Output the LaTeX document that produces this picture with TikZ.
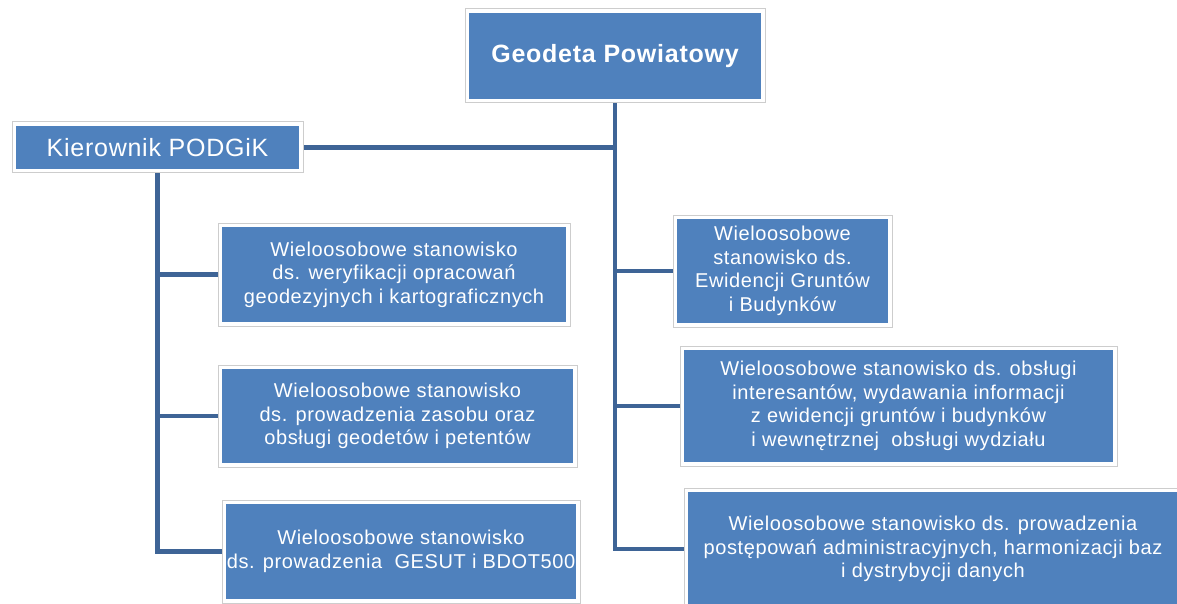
\documentclass[tikz,border=0pt]{standalone}
\usepackage{fontspec}
\setmainfont{Liberation Sans}[LetterSpace=3]
\usepackage{tikz}
\usetikzlibrary{positioning, backgrounds}
\definecolor{BoxBlue}{RGB}{79,129,189}
\definecolor{LineBlue}{RGB}{62,100,150}
\definecolor{FrameGray}{RGB}{205,205,205}
\tikzset{
  orgbox/.style={fill=BoxBlue, text=white, align=center, inner sep=0pt,
    font=\fontsize{20}{23.5}\selectfont,
    preaction={draw=FrameGray, line width=9pt},
    preaction={draw=white, line width=7pt}},
  link/.style={draw=LineBlue, line width=4.5pt}
}

\begin{document}
\begin{tikzpicture}[x=1pt, y=-1pt]
\useasboundingbox (0,0) rectangle (1177,604);
\clip (0,0) rectangle (1177,604);
% kierownictwo
\node[orgbox, minimum width=292pt, minimum height=86pt, font=\bfseries\fontsize{25}{30}\selectfont] (geodeta) at (615,56) {Geodeta Powiatowy};
\node[orgbox, minimum width=283pt, minimum height=43pt, font=\fontsize{25}{30}\selectfont] (kierownik) at (157.5,147.5) {Kierownik PODGiK};
% stanowiska PODGiK
\node[orgbox, minimum width=344pt, minimum height=95pt] (weryf) at (394,274.5) {Wieloosobowe stanowisko\\ds. weryfikacji opracowań\\geodezyjnych i kartograficznych};
\node[orgbox, minimum width=351pt, minimum height=94pt] (zasob) at (397.5,416) {Wieloosobowe stanowisko\\ds. prowadzenia zasobu oraz\\obsługi geodetów i petentów};
\node[orgbox, minimum width=350pt, minimum height=95pt] (gesut) at (401,551.5) {Wieloosobowe stanowisko\\ds. prowadzenia \ GESUT i BDOT500};
% stanowiska wydzialu
\node[orgbox, minimum width=211pt, minimum height=104pt] (egib) at (782.5,271) {Wieloosobowe\\stanowisko ds.\\Ewidencji Gruntów\\i Budynków};
\node[orgbox, minimum width=429pt, minimum height=112pt] (obsluga) at (898.5,406) {Wieloosobowe stanowisko ds. obsługi\\interesantów, wydawania informacji\\z ewidencji gruntów i budynków\\i wewnętrznej \ obsługi wydziału};
\node[orgbox, minimum width=490pt, minimum height=114pt] (postep) at (933,549) {Wieloosobowe stanowisko ds. prowadzenia\\postępowań administracyjnych, harmonizacji baz\\i dystrybycji danych};
% polaczenia
\begin{scope}[on background layer]
\draw[link] (geodeta.south) |- (kierownik.east);
\draw[link] (geodeta.south) |- (egib.west);
\draw[link] (geodeta.south) |- (obsluga.west);
\draw[link] (geodeta.south) |- (postep.west);
\draw[link] (kierownik.south) |- (weryf.west);
\draw[link] (kierownik.south) |- (zasob.west);
\draw[link] (kierownik.south) |- (gesut.west);
\end{scope}
\end{tikzpicture}
\end{document}
